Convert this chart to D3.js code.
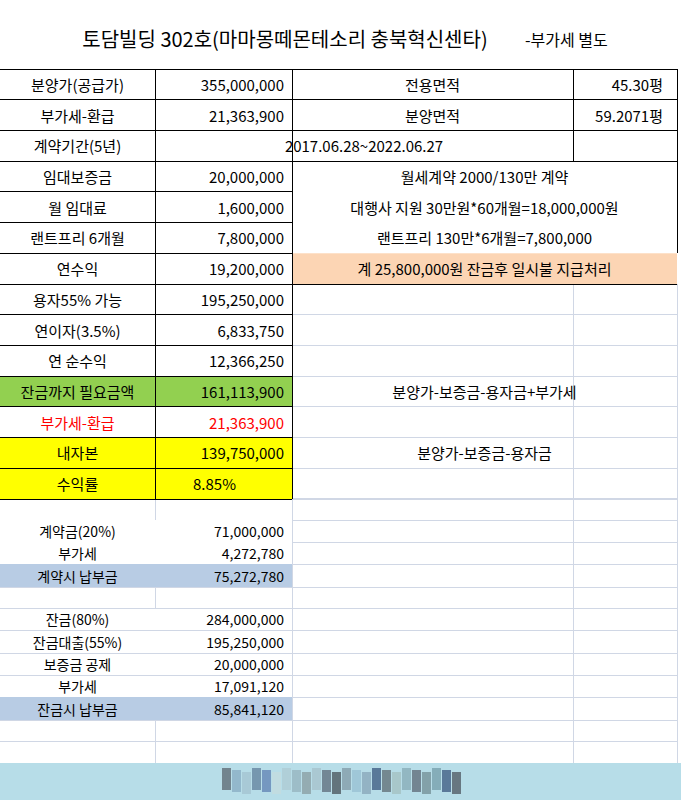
<!DOCTYPE html><html><head><meta charset="utf-8">
<script src="https://cdn.jsdelivr.net/npm/d3@7"></script>
<style>body{margin:0;background:#fff}text{font-family:"Noto Sans CJK KR","Noto Sans",sans-serif}</style></head><body>
<svg id="s" width="681" height="800"></svg>
<script>
const title = "토담빌딩 302호(마마몽떼몬테소리 충북혁신센타)";
const titleNote = "-부가세 별도";
const topLabels = ["분양가(공급가)","부가세-환급","계약기간(5년)","임대보증금","월 임대료","랜트프리 6개월","연수익","용자55% 가능","연이자(3.5%)","연 순수익","잔금까지 필요금액","부가세-환급","내자본","수익률"];
const topValues = ["355,000,000","21,363,900","2017.06.28~2022.06.27","20,000,000","1,600,000","7,800,000","19,200,000","195,250,000","6,833,750","12,366,250","161,113,900","21,363,900","139,750,000","8.85%"];
const topFills = [null,null,null,null,null,null,null,null,null,null,"#92d050",null,"#ffff00","#ffff00"];
const rightLabels = ["전용면적","분양면적"];
const rightValues = ["45.30평","59.2071평"];
const notes = ["월세계약 2000/130만 계약","대행사 지원 30만원*60개월=18,000,000원","랜트프리 130만*6개월=7,800,000","계 25,800,000원 잔금후 일시불 지급처리"];
const formulas = [{row:10,text:"분양가-보증금-용자금+부가세"},{row:12,text:"분양가-보증금-용자금"}];
const botLabels = ["","계약금(20%)","부가세","계약시 납부금","","잔금(80%)","잔금대출(55%)","보증금 공제","부가세","잔금시 납부금","",""];
const botValues = ["","71,000,000","4,272,780","75,272,780","","284,000,000","195,250,000","20,000,000","17,091,120","85,841,120","",""];
const mosaic = ["#6a7a84","#8fb4c9","#a6c6d4","#6f8fa8","#6e90bb","#c2dbe0","#afcdd6","#9ab9c4","#90a6ac","#a9c5cf","#6c7d8c","#5a6870","#8aa4b0","#9cc4d6","#8faec0","#4f6e90","#6d7e86","#a6c4c6","#8eb2be","#6b7b88","#7d9aa2","#80a7b4","#506e90","#5e6b76"];

const svg = d3.select("#s");
const X = d3.scaleOrdinal().domain([0,1,2,3,4]).range([0,155,292,573,677]);
const topY = d3.scaleLinear().domain([0,14]).range([69,499]);
const botRows = [498,520,542,564,587,608,630,653,675,697,720,741,763];
const black="#000", grey="#d0d7e5";
function line(x1,y1,x2,y2,c){svg.append("line").attr("x1",x1).attr("y1",y1).attr("x2",x2).attr("y2",y2).attr("stroke",c).attr("stroke-width",1).attr("shape-rendering","crispEdges");}
function txt(x,y,t,anchor,size,color){svg.append("text").attr("x",x).attr("y",y).attr("text-anchor",anchor).attr("dominant-baseline","central").attr("font-size",size).attr("fill",color||"#000").text(t);}

txt(285,38,title,"middle",20);
txt(525,39,titleNote,"start",16);

for(let i=7;i<=14;i++) line(X(2),topY(i),X(4),topY(i),grey);
for(let i=0;i<botRows.length;i++) line(X(2),botRows[i],X(4),botRows[i],grey);
line(X(3),topY(7),X(3),763,grey); line(X(4),topY(7),X(4),763,grey); line(X(2),499,X(2),763,grey);
[3,4,5,6,7,8,9,10,11].forEach(i=>line(0,botRows[i],X(2),botRows[i],grey));
[[498,520],[587,608],[720,763]].forEach(r=>line(X(1),r[0],X(1),r[1],grey));

topFills.forEach((f,i)=>{if(f) svg.append("rect").attr("x",0).attr("y",topY(i)).attr("width",X(2)).attr("height",topY(i+1)-topY(i)).attr("fill",f);});
svg.append("rect").attr("x",X(2)).attr("y",topY(6)).attr("width",X(4)-X(2)).attr("height",topY(7)-topY(6)).attr("fill","#fcd5b4");
[3,9].forEach(i=>svg.append("rect").attr("x",0).attr("y",botRows[i]).attr("width",X(2)).attr("height",botRows[i+1]-botRows[i]).attr("fill","#b8cce4"));
svg.append("rect").attr("x",0).attr("y",763).attr("width",681).attr("height",37).attr("fill","#b7dde8");
mosaic.forEach((c,i)=>{svg.append("rect").attr("x",222+i*10).attr("y",768+(i%3)*2).attr("width",9).attr("height",22).attr("fill",c).attr("opacity",0.9);});

for(let i=0;i<=14;i++) line(0,topY(i),X(2),topY(i),black);
line(X(1),topY(0),X(1),topY(14),black); line(X(2),topY(0),X(2),topY(14),black);
[0,1,2,3].forEach(i=>line(X(2),topY(i),X(4),topY(i),black));
line(X(3),topY(0),X(3),topY(3),black); line(X(4),topY(0),X(4),topY(3),black);
line(X(2),topY(7),X(4),topY(7),black); line(X(4),topY(3),X(4),topY(6),black);

topLabels.forEach((t,i)=>txt(X(1)/2,(topY(i)+topY(i+1))/2,t,"middle",15,i==11?"#ff0000":"#000"));
topValues.forEach((t,i)=>{const cy=(topY(i)+topY(i+1))/2;
  if(i==2) txt((X(1)+X(3))/2,cy,t,"middle",15);
  else if(i==13) txt(X(1)+38,cy,t,"start",15);
  else txt(X(2)-8,cy,t,"end",15,i==11?"#ff0000":"#000");});
rightLabels.forEach((t,i)=>{const cy=(topY(i)+topY(i+1))/2;txt((X(2)+X(3))/2,cy,t,"middle",15);txt(X(4)-14,cy,rightValues[i],"end",15);});
notes.forEach((t,i)=>txt((X(2)+X(4))/2,(topY(i+3)+topY(i+4))/2,t,"middle",15));
formulas.forEach(f=>txt((X(2)+X(4))/2,(topY(f.row)+topY(f.row+1))/2,f.text,"middle",15));

botLabels.forEach((t,i)=>{if(!t)return;const cy=(botRows[i]+botRows[i+1])/2;txt(X(1)/2,cy,t,"middle",14);txt(X(2)-8,cy,botValues[i],"end",14);});
</script></body></html>
